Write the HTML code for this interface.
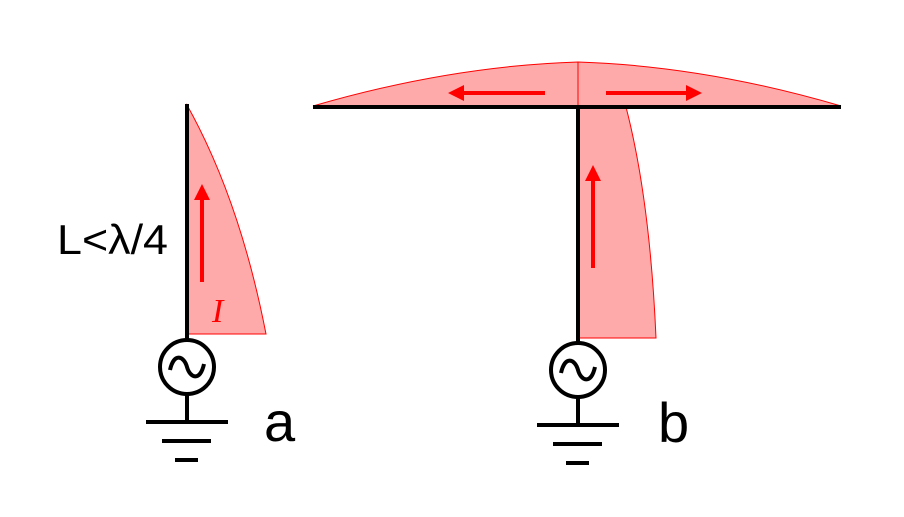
<!DOCTYPE html>
<html><head><style>html,body{margin:0;padding:0;background:#fff}</style></head><body>
<svg width="904" height="512" viewBox="0 0 904 512" xmlns="http://www.w3.org/2000/svg">
<defs><marker id="ah" markerWidth="4" markerHeight="4" refX="1" refY="2" orient="auto" markerUnits="strokeWidth"><path d="M0,0 L4,2 L0,4 Z" fill="#f00"/></marker></defs>
<rect width="904" height="512" fill="#fff"/>
<!-- a -->
<path d="M187,105 Q240,200 266,334 L187,334 Z" fill="#ffaaaa" stroke="#f00" stroke-width="1"/>
<line x1="202" y1="282" x2="202" y2="196" stroke="#f00" stroke-width="4" marker-end="url(#ah)"/>
<text x="212" y="322" font-family="Liberation Serif,serif" font-style="italic" font-size="34" fill="#f00">I</text>
<line x1="187" y1="104" x2="187" y2="340" stroke="#000" stroke-width="4"/>
<circle cx="187" cy="367" r="27" fill="none" stroke="#000" stroke-width="4"/>
<path d="M170,370 C174,352 184,356 187,367 C190,378 200,382 204,364" fill="none" stroke="#000" stroke-width="4"/>
<line x1="187" y1="394" x2="187" y2="422" stroke="#000" stroke-width="4"/>
<line x1="146" y1="422" x2="228" y2="422" stroke="#000" stroke-width="4"/>
<line x1="162" y1="441" x2="211" y2="441" stroke="#000" stroke-width="4"/>
<line x1="175" y1="460" x2="198" y2="460" stroke="#000" stroke-width="4"/>
<text x="264" y="441" font-family="Liberation Sans,sans-serif" font-size="56">a</text>
<text x="57" y="254" font-family="Liberation Sans,sans-serif" font-size="42" textLength="111" lengthAdjust="spacingAndGlyphs">L&lt;λ/4</text>
<!-- b -->
<path d="M313,106 Q450,66 578,62 Q705,66 841,106 Z" fill="#ffaaaa" stroke="#f00" stroke-width="1"/>
<line x1="578" y1="62" x2="578" y2="107" stroke="#f00" stroke-width="1"/>
<path d="M578,107 L626,107 Q650,200 656,338 L578,338 Z" fill="#ffaaaa" stroke="#f00" stroke-width="1"/>
<line x1="545" y1="93" x2="460" y2="93" stroke="#f00" stroke-width="4" marker-end="url(#ah)"/>
<line x1="606" y1="93" x2="690" y2="93" stroke="#f00" stroke-width="4" marker-end="url(#ah)"/>
<line x1="593" y1="268" x2="593" y2="177" stroke="#f00" stroke-width="4" marker-end="url(#ah)"/>
<line x1="313" y1="107" x2="841" y2="107" stroke="#000" stroke-width="4"/>
<line x1="578" y1="107" x2="578" y2="343" stroke="#000" stroke-width="4"/>
<circle cx="578" cy="370" r="27" fill="none" stroke="#000" stroke-width="4"/>
<path d="M561,373 C565,355 575,359 578,370 C581,381 591,385 595,367" fill="none" stroke="#000" stroke-width="4"/>
<line x1="578" y1="397" x2="578" y2="425" stroke="#000" stroke-width="4"/>
<line x1="537" y1="425" x2="619" y2="425" stroke="#000" stroke-width="4"/>
<line x1="553" y1="444" x2="602" y2="444" stroke="#000" stroke-width="4"/>
<line x1="566" y1="463" x2="589" y2="463" stroke="#000" stroke-width="4"/>
<text x="658" y="442" font-family="Liberation Sans,sans-serif" font-size="56">b</text>
</svg>
</body></html>
